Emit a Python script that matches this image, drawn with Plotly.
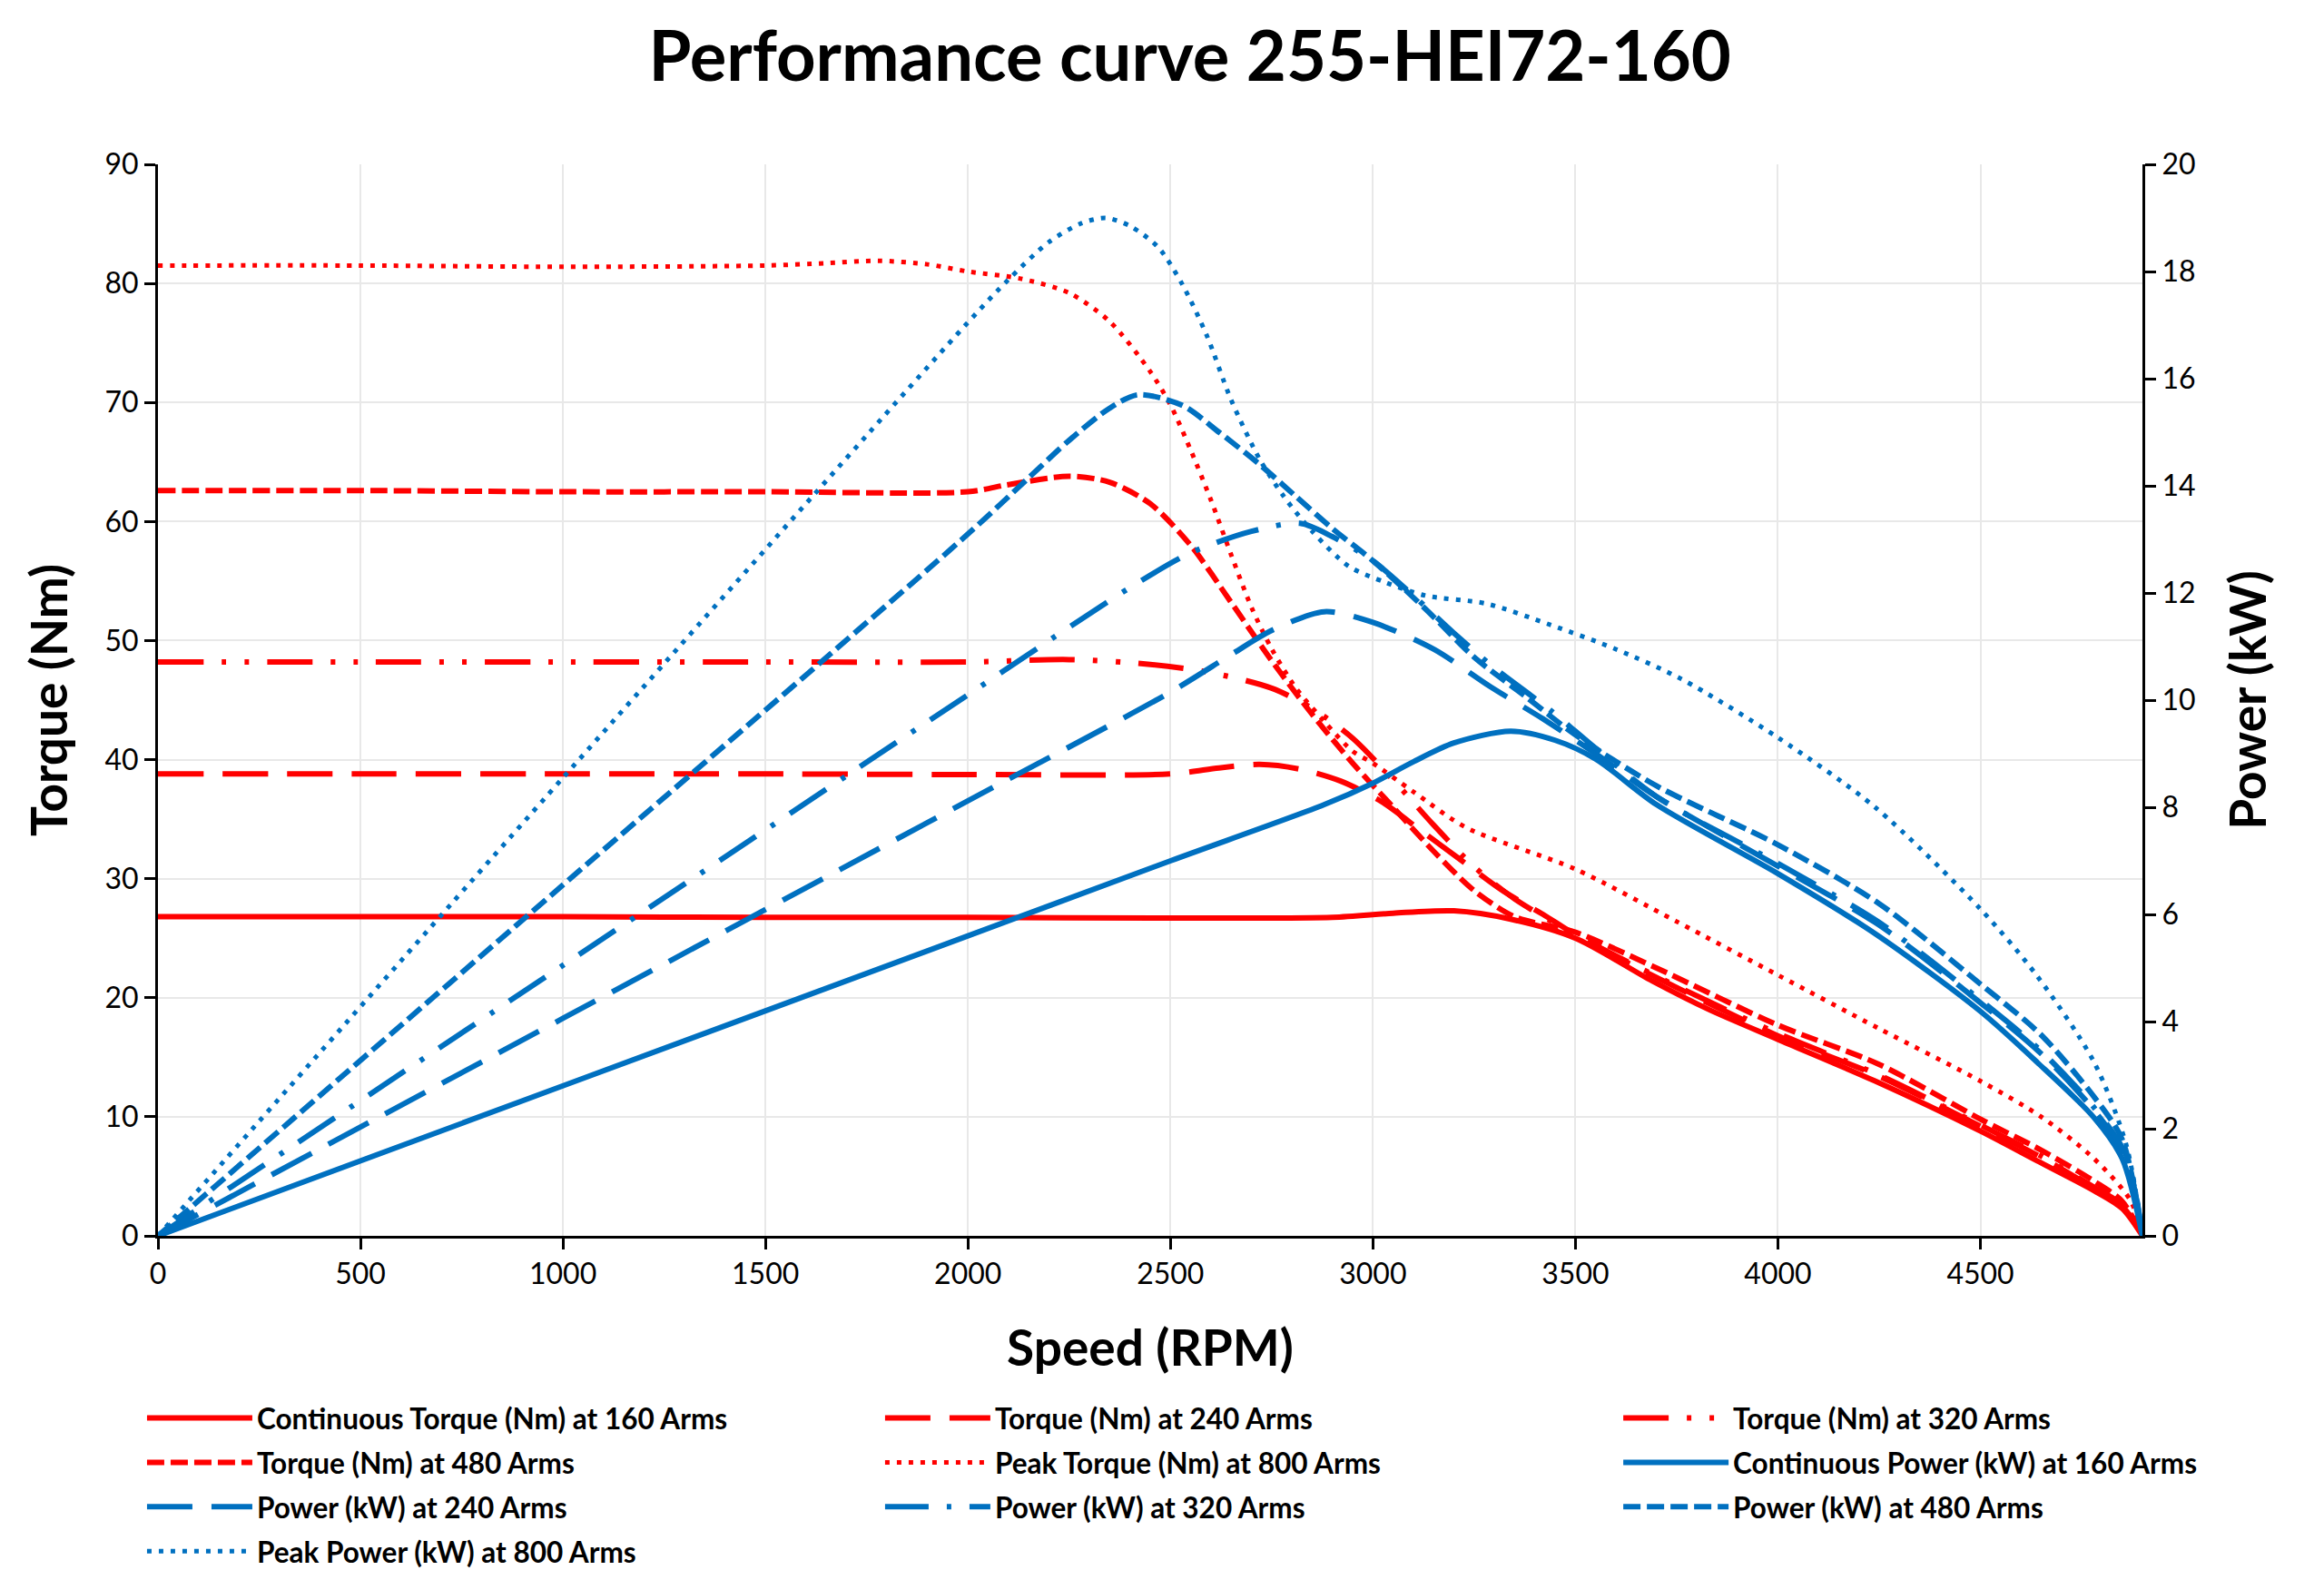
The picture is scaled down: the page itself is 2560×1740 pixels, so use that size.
import plotly.graph_objects as go

# speed (RPM) / torque (Nm)
rpm_t160 = [0, 500, 1000, 1500, 2000, 2500, 2900, 3050, 3200, 3340, 3500, 3690, 3830, 4000, 4240, 4500, 4640, 4780, 4850, 4900]
nm_t160 = [26.8, 26.8, 26.8, 26.75, 26.75, 26.7, 26.75, 27.1, 27.3, 26.6, 25.0, 21.4, 19.0, 16.5, 13.0, 8.8, 6.3, 3.8, 2.3, 0]

rpm_t240 = [0, 500, 1000, 1500, 2000, 2500, 2620, 2720, 2820, 2920, 3020, 3120, 3220, 3320, 3420, 3500, 3700, 4000, 4250, 4500, 4650, 4780, 4850, 4900]
nm_t240 = [38.8, 38.8, 38.8, 38.8, 38.75, 38.8, 39.3, 39.6, 39.2, 38.2, 36.5, 34.0, 31.5, 29.0, 27.0, 25.3, 21.7, 16.8, 13.4, 9.2, 6.6, 4.0, 2.5, 0]

rpm_t320 = [0, 500, 1000, 1500, 2000, 2250, 2450, 2600, 2750, 2850, 2950, 3050, 3150, 3250, 3350, 3500, 3700, 4000, 4250, 4500, 4650, 4780, 4850, 4900]
nm_t320 = [48.2, 48.2, 48.2, 48.2, 48.2, 48.4, 48.0, 47.3, 46.0, 44.3, 41.8, 38.3, 34.5, 31.0, 28.3, 25.3, 21.8, 17.0, 13.5, 9.3, 6.7, 4.1, 2.6, 0]

rpm_t480 = [0, 500, 1000, 1500, 2000, 2100, 2250, 2350, 2450, 2550, 2650, 2750, 2850, 2950, 3050, 3150, 3250, 3350, 3500, 3700, 4000, 4250, 4500, 4650, 4780, 4850, 4900]
nm_t480 = [62.6, 62.6, 62.5, 62.5, 62.5, 63.1, 63.8, 63.3, 61.5, 58.0, 53.2, 48.3, 43.8, 39.7, 36.0, 32.3, 29.0, 26.8, 25.5, 22.5, 17.7, 14.4, 9.8, 7.2, 4.6, 2.9, 0]

rpm_t800 = [0, 500, 1000, 1500, 1650, 1780, 1900, 2000, 2130, 2250, 2350, 2450, 2500, 2550, 2600, 2650, 2700, 2750, 2810, 2880, 2950, 3000, 3100, 3230, 3500, 3750, 4000, 4250, 4500, 4650, 4780, 4870, 4900]
nm_t800 = [81.5, 81.5, 81.4, 81.5, 81.7, 81.9, 81.6, 81.0, 80.4, 79.2, 76.8, 72.6, 69.8, 66.0, 61.8, 57.2, 52.8, 49.3, 46.0, 43.2, 40.7, 39.7, 37.3, 34.3, 30.8, 26.4, 21.9, 17.4, 13.0, 10.0, 6.5, 3.0, 0]

# speed (RPM) / power (kW)
rpm_p160 = [0, 1000, 2000, 2500, 2880, 3000, 3100, 3200, 3340, 3450, 3550, 3700, 4000, 4240, 4500, 4640, 4780, 4850, 4900]
kw_p160 = [0, 2.8, 5.6, 7.0, 8.05, 8.45, 8.85, 9.2, 9.42, 9.25, 8.9, 8.05, 6.76, 5.64, 4.19, 3.24, 2.21, 1.44, 0]

rpm_p240 = [0, 1000, 2000, 2500, 2650, 2750, 2880, 3000, 3150, 3290, 3420, 3550, 3700, 4000, 4250, 4500, 4650, 4780, 4860, 4900]
kw_p240 = [0, 4.06, 8.12, 10.15, 10.85, 11.3, 11.65, 11.45, 10.95, 10.25, 9.65, 9.0, 8.2, 6.9, 5.8, 4.35, 3.4, 2.35, 1.45, 0]

rpm_p320 = [0, 1000, 2000, 2400, 2550, 2700, 2820, 2900, 3000, 3100, 3200, 3300, 3440, 3550, 3700, 4000, 4250, 4500, 4650, 4780, 4860, 4900]
kw_p320 = [0, 5.05, 10.1, 12.1, 12.75, 13.15, 13.3, 13.05, 12.6, 11.95, 11.25, 10.6, 9.8, 9.1, 8.2, 6.95, 5.85, 4.4, 3.45, 2.4, 1.5, 0]

rpm_p480 = [0, 1000, 2000, 2150, 2250, 2350, 2420, 2530, 2620, 2720, 2810, 2900, 3000, 3130, 3250, 3380, 3500, 3700, 4000, 4250, 4500, 4650, 4780, 4850, 4900]
kw_p480 = [0, 6.55, 13.1, 14.15, 14.85, 15.45, 15.7, 15.5, 15.0, 14.4, 13.8, 13.2, 12.6, 11.7, 10.8, 10.05, 9.35, 8.4, 7.3, 6.2, 4.7, 3.75, 2.6, 1.8, 0]

rpm_p800 = [0, 1000, 2000, 2100, 2200, 2280, 2340, 2400, 2470, 2530, 2590, 2650, 2720, 2780, 2850, 2940, 3030, 3130, 3280, 3440, 3600, 3760, 4000, 4240, 4500, 4640, 4780, 4860, 4900]
kw_p800 = [0, 8.55, 17.05, 17.85, 18.55, 18.9, 19.0, 18.85, 18.45, 17.75, 16.8, 15.6, 14.5, 13.8, 13.15, 12.5, 12.2, 11.95, 11.8, 11.4, 10.95, 10.4, 9.3, 8.0, 6.1, 4.85, 3.25, 1.7, 0]

RED = "#FF0000"
BLUE = "#0070C0"
FONT = "Lato"

# name, x, y, colour, dash, width, y axis, legend column
series = [
    ("Continuous Torque (Nm) at 160 Arms", rpm_t160, nm_t160, RED, "solid", 6, "y", "legend"),
    ("Torque (Nm) at 240 Arms", rpm_t240, nm_t240, RED, "50px,21px", 6, "y", "legend2"),
    ("Torque (Nm) at 320 Arms", rpm_t320, nm_t320, RED, "50px,20px,5px,20px,5px,20px", 6, "y", "legend3"),
    ("Torque (Nm) at 480 Arms", rpm_t480, nm_t480, RED, "19px,7px", 6, "y", "legend"),
    ("Peak Torque (Nm) at 800 Arms", rpm_t800, nm_t800, RED, "5px,8px", 5, "y", "legend2"),
    ("Continuous Power (kW) at 160 Arms", rpm_p160, kw_p160, BLUE, "solid", 6, "y2", "legend3"),
    ("Power (kW) at 240 Arms", rpm_p240, kw_p240, BLUE, "50px,21px", 6, "y2", "legend"),
    ("Power (kW) at 320 Arms", rpm_p320, kw_p320, BLUE, "48px,20px,5px,20px", 6, "y2", "legend2"),
    ("Power (kW) at 480 Arms", rpm_p480, kw_p480, BLUE, "19px,7px", 6, "y2", "legend3"),
    ("Peak Power (kW) at 800 Arms", rpm_p800, kw_p800, BLUE, "5px,8px", 5, "y2", "legend"),
]

fig = go.Figure()
for name, x, y, color, dash, width, axis, leg in series:
    fig.add_trace(go.Scatter(
        x=x, y=y, name=name, yaxis=axis, mode="lines",
        legend=leg, legendgroup=name,
        line=dict(color=color, dash=dash, width=width, shape="spline", smoothing=0.8),
    ))

tickfont = dict(family=FONT, size=32, color="black")
axis_common = dict(
    showline=True, linecolor="black", linewidth=3,
    ticks="outside", ticklen=12, tickwidth=3, tickcolor="black",
    tickfont=tickfont, zeroline=False,
)
# inner half of the cross tick marks
inner = dict(
    ticks="inside", ticklen=12, tickwidth=3, tickcolor="black",
    showticklabels=False, showgrid=False, showline=False, zeroline=False,
)

legend_common = dict(
    orientation="v", xanchor="left", y=-0.147, yanchor="top",
    font=dict(family=FONT, size=31.5, color="black", weight="bold"),
    traceorder="grouped", tracegroupgap=5, itemwidth=116,
    bgcolor="rgba(0,0,0,0)",
)

fig.update_layout(
    width=2560, height=1740,
    paper_bgcolor="white", plot_bgcolor="white",
    margin=dict(l=166, r=208, t=173, b=376),
    font=dict(family=FONT, color="black"),
    title=dict(
        text="<b>Performance curve 255-HEI72-160</b>",
        x=0.52, xref="paper", xanchor="center", y=0.969, yanchor="middle",
        font=dict(family=FONT, size=76, color="black"),
    ),
    xaxis=dict(
        range=[0, 4900], dtick=500, tick0=0,
        showgrid=True, gridcolor="#e8e8e8", gridwidth=2,
        title=dict(text="<b>Speed (RPM)</b>", font=dict(family=FONT, size=55), standoff=46),
        **axis_common,
    ),
    xaxis2=dict(range=[0, 4900], dtick=500, tick0=0, overlaying="x", anchor="y", side="bottom", **inner),
    yaxis=dict(
        range=[0, 90], dtick=10, tick0=0,
        showgrid=True, gridcolor="#e8e8e8", gridwidth=2,
        title=dict(text="<b>Torque (Nm)</b>", font=dict(family=FONT, size=55), standoff=24),
        **axis_common,
    ),
    yaxis2=dict(
        range=[0, 20], dtick=2, tick0=0, overlaying="y", side="right",
        showgrid=False,
        title=dict(text="<b>Power (kW)</b>", font=dict(family=FONT, size=55), standoff=40),
        **axis_common,
    ),
    yaxis3=dict(range=[0, 90], dtick=10, tick0=0, overlaying="y", anchor="x", side="left", **inner),
    yaxis4=dict(range=[0, 20], dtick=2, tick0=0, overlaying="y", anchor="x", side="right", **inner),
    legend=dict(x=-0.0078, **legend_common),
    legend2=dict(x=0.3641, **legend_common),
    legend3=dict(x=0.7361, **legend_common),
    showlegend=True,
)

fig.write_html("out.html")
